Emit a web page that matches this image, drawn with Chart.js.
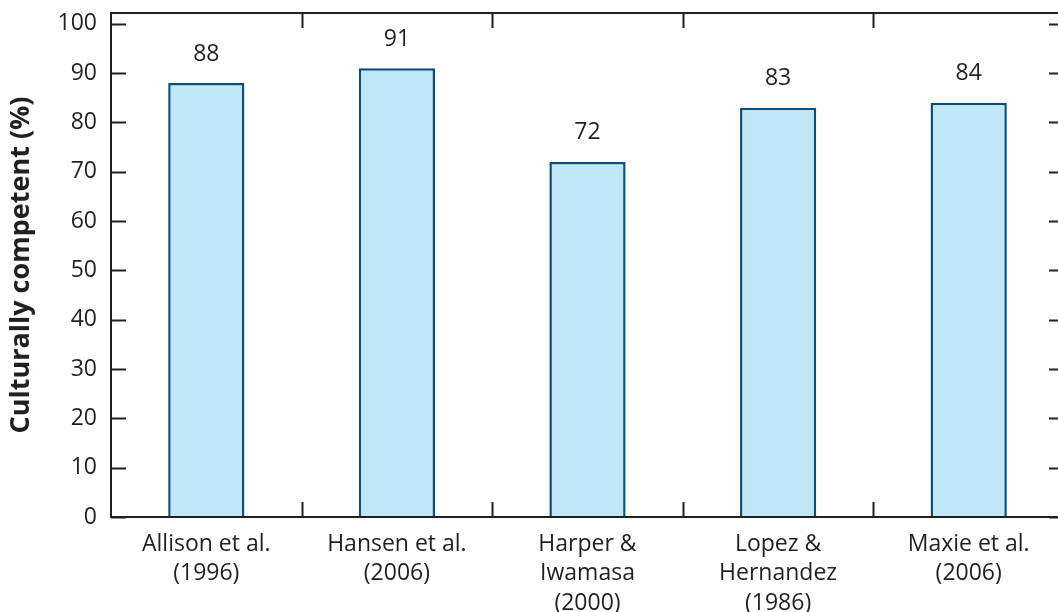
<!DOCTYPE html>
<html>
<head>
<meta charset="utf-8">
<script src="https://cdn.jsdelivr.net/npm/chart.js@4"></script>
<style>
    html, body { margin: 0; padding: 0; background: #fff; overflow: hidden; }
    #wrap { width: 1070px; height: 612px; }
</style>
</head>
<body>
<div id="wrap"><canvas id="chart"></canvas></div>
<script>
const studies =
[
    ["Allison et al.", "(1996)"],
    ["Hansen et al.", "(2006)"],
    ["Harper &", "Iwamasa", "(2000)"],
    ["Lopez &", "Hernandez", "(1986)"],
    ["Maxie et al.", "(2006)"]
];

const competentPct = [88, 91, 72, 83, 84];

const yTickValues = [0, 10, 20, 30, 40, 50, 60, 70, 80, 90, 100];

const INK = "#231f20";
const FONT = "'Open Sans', sans-serif";

// frame + inward tick marks on all four sides
const framePlugin =
{
    id: "frame",
    afterDraw(chart)
    {
        const ctx = chart.ctx;
        const area = chart.chartArea;
        const x = chart.scales.x;
        const y = chart.scales.y;
        const tick = 15;

        ctx.save();
        ctx.strokeStyle = INK;
        ctx.lineWidth = 2;
        ctx.strokeRect(area.left, area.top, area.right - area.left, area.bottom - area.top);

        ctx.beginPath();
        yTickValues.forEach((v) =>
        {
            const py = Math.round(y.getPixelForValue(v)) + 0.5;
            ctx.moveTo(area.left, py);
            ctx.lineTo(area.left + tick, py);
            ctx.moveTo(area.right, py);
            ctx.lineTo(area.right - tick, py);
        });

        const half = (x.getPixelForValue(1) - x.getPixelForValue(0)) / 2;
        for (let i = 0; i < studies.length - 1; i++)
        {
            const px = Math.round(x.getPixelForValue(i) + half) + 0.5;
            ctx.moveTo(px, area.bottom);
            ctx.lineTo(px, area.bottom - tick);
            ctx.moveTo(px, area.top);
            ctx.lineTo(px, area.top + tick);
        }
        ctx.stroke();

        // value labels
        ctx.fillStyle = INK;
        ctx.font = "23px " + FONT;
        ctx.textAlign = "center";
        ctx.textBaseline = "middle";
        const meta = chart.getDatasetMeta(0);
        meta.data.forEach((bar, i) =>
        {
            ctx.fillText(String(competentPct[i]), bar.x, bar.y - 29);
        });
        ctx.restore();
    }
};

window.addEventListener("load", () =>
{
    const canvas = document.getElementById("chart");

    new Chart(canvas.getContext("2d"),
    {
        type: "bar",
        data:
        {
            labels: studies,
            datasets:
            [
                {
                    data: competentPct,
                    backgroundColor: "#c0e6f7",
                    borderColor: "#0b4f7a",
                    borderWidth: 2.5,
                    borderSkipped: "bottom",
                    categoryPercentage: 0.4,
                    barPercentage: 1
                }
            ]
        },
        options:
        {
            animation: false,
            responsive: true,
            maintainAspectRatio: false,
            layout:
            {
                padding: { left: 0, right: 6, top: 13, bottom: 0 }
            },
            plugins:
            {
                legend: { display: false },
                tooltip: { enabled: false }
            },
            scales:
            {
                x:
                {
                    grid: { display: false, drawTicks: false },
                    border: { display: false },
                    ticks:
                    {
                        color: INK,
                        padding: 13,
                        maxRotation: 0,
                        autoSkip: false,
                        font: { family: FONT, size: 23, lineHeight: 1.27 }
                    },
                    afterFit(scale)
                    {
                        scale.height = 95;
                    }
                },
                y:
                {
                    min: 0,
                    max: 102.2,
                    grid: { display: false, drawTicks: false },
                    border: { display: false },
                    afterBuildTicks(scale)
                    {
                        scale.ticks = yTickValues.map((v) => ({ value: v }));
                    },
                    ticks:
                    {
                        color: INK,
                        padding: 14,
                        font: { family: FONT, size: 23 }
                    },
                    title:
                    {
                        display: true,
                        text: "Culturally competent (%)",
                        color: INK,
                        padding: { top: 5, bottom: 0 },
                        font: { family: FONT, size: 27, weight: "bold" }
                    },
                    afterFit(scale)
                    {
                        scale.width = 111;
                        scale.paddingTop = 0;
                        scale.paddingBottom = 0;
                    }
                }
            }
        },
        plugins: [framePlugin]
    });
});
</script>
</body>
</html>
